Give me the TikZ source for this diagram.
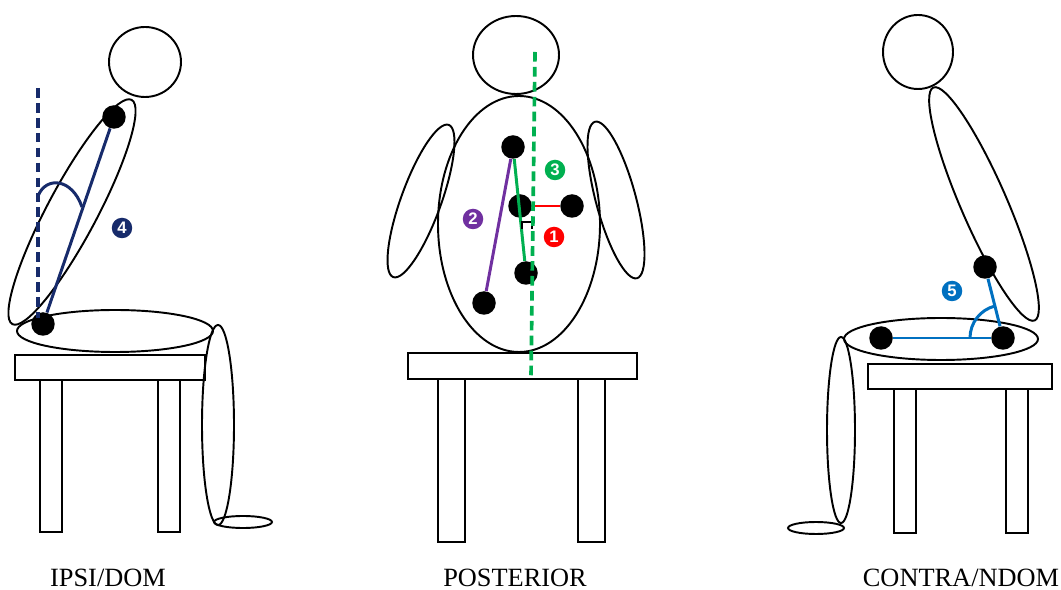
\documentclass[tikz,border=0pt]{standalone}
\usepackage{fontspec}
\setmainfont{Liberation Serif}
\setsansfont{Liberation Sans}
\usetikzlibrary{calc}

\definecolor{ccnavy}{RGB}{23,43,107}
\definecolor{ccgreen}{RGB}{0,176,80}
\definecolor{ccpurple}{RGB}{112,48,160}
\definecolor{ccred}{RGB}{255,0,0}
\definecolor{ccblue}{RGB}{0,112,192}

\tikzset{
  body/.style={line width=1.1pt},
  joint/.style={circle, fill=black, inner sep=0pt, minimum size=0.47cm},
  segment/.style={line width=1.7pt, draw=#1},
  plumb/.style={line width=2.1pt, dash pattern=on 5.5pt off 3pt, draw=#1},
  badge/.style={circle, fill=#1, text=white, inner sep=0pt, minimum size=0.41cm,
    font=\sffamily\bfseries\fontsize{9.5}{9.5}\selectfont},
  caption/.style={font=\fontsize{15}{18}\selectfont}
}

\begin{document}
\begin{tikzpicture}[x=0.02cm, y=-0.02cm]
  \useasboundingbox (0,0) rectangle (1061,590);

  %%% Side view, leaning forward
  % Body
  \draw[body] (145,62) ellipse [x radius=36, y radius=35];
  \draw[body, rotate around={62:(72,212)}] (72,212) ellipse [x radius=127, y radius=25];
  \draw[body] (115,331) ellipse [x radius=98, y radius=21];
  \draw[body] (218,425) ellipse [x radius=16, y radius=100];
  \draw[body] (243,522) ellipse [x radius=29, y radius=6];

  % Stool
  \draw[body] (15,355) rectangle (205,380);
  \draw[body] (40,380) rectangle (62,532);
  \draw[body] (158,380) rectangle (180,532);

  % Markers and trunk angle
  \node[joint] (ipsiUpper) at (114,117) {};
  \node[joint] (ipsiLower) at (43,324) {};
  \coordinate (ipsiPlumbTop) at (38,88);
  \coordinate (ipsiPlumbBot) at (38,318);
  \draw[plumb=ccnavy] (ipsiPlumbTop) -- (ipsiPlumbBot);
  \draw[segment=ccnavy] (ipsiLower) -- (ipsiUpper);
  \draw[segment=ccnavy] (38,196) .. controls (46,176) and (72,178) .. (82,207);
  \node[badge=ccnavy] (badgeFour) at (122,228) {4};

  \node[caption] (capIpsi) at (108,578) {IPSI/DOM};

  %%% Back view
  % Body
  \draw[body] (516,55) ellipse [x radius=43, y radius=39];
  \draw[body] (519,224) ellipse [x radius=81, y radius=128];
  \draw[body, rotate around={70:(421,201)}] (421,201) ellipse [x radius=81, y radius=20];
  \draw[body, rotate around={-75:(616,200)}] (616,200) ellipse [x radius=81, y radius=20];

  % Stool
  \draw[body] (408,353) rectangle (637,379);
  \draw[body] (438,379) rectangle (465,542);
  \draw[body] (578,379) rectangle (605,542);

  % Markers
  \node[joint] (postTop) at (513,147) {};
  \node[joint] (postMid) at (520,206) {};
  \node[joint] (postRight) at (572,206) {};
  \node[joint] (postLow) at (526,273) {};
  \node[joint] (postLeft) at (484,303) {};

  \draw[segment=ccpurple] (postTop) -- (postLeft);
  \draw[segment=ccgreen] (postTop) -- (postLow);
  \draw[segment=ccred] (postMid) -- (postRight);
  \draw[line width=1pt] (522,229) -- (522,222) -- (532,222) -- (532,229);

  \coordinate (postPlumbTop) at (535,52);
  \coordinate (postPlumbBot) at (531,378);
  \draw[plumb=ccgreen] (postPlumbTop) -- (postPlumbBot);

  \node[badge=ccgreen] (badgeThree) at (555,170) {3};
  \node[badge=ccpurple] (badgeTwo) at (473,219) {2};
  \node[badge=ccred] (badgeOne) at (554,237) {1};

  \node[caption] (capPost) at (515,578) {POSTERIOR};

  %%% Side view, leaning back
  % Body
  \draw[body] (918,52) ellipse [x radius=35, y radius=37];
  \draw[body, rotate around={-66.5:(984,204)}] (984,204) ellipse [x radius=127, y radius=23];
  \draw[body] (941,339) ellipse [x radius=97, y radius=21];
  \draw[body] (841,430) ellipse [x radius=14, y radius=93];
  \draw[body] (816,528) ellipse [x radius=28, y radius=6];

  % Stool
  \draw[body] (868,364) rectangle (1052,389);
  \draw[body] (894,389) rectangle (916,533);
  \draw[body] (1006,389) rectangle (1028,533);

  % Markers and pelvic angle
  \node[joint] (contraUpper) at (985,267) {};
  \node[joint] (contraFront) at (881,338) {};
  \node[joint] (contraBack) at (1003,338) {};
  \draw[segment=ccblue] (contraFront) -- (contraBack);
  \draw[segment=ccblue] (contraBack) -- (contraUpper);
  \draw[segment=ccblue] ($(contraBack)+(-33,0)$) arc [start angle=180, end angle=256, radius=33];
  \node[badge=ccblue] (badgeFive) at (952,291) {5};

  \node[caption] (capContra) at (961,578) {CONTRA/NDOM};
\end{tikzpicture}
\end{document}
